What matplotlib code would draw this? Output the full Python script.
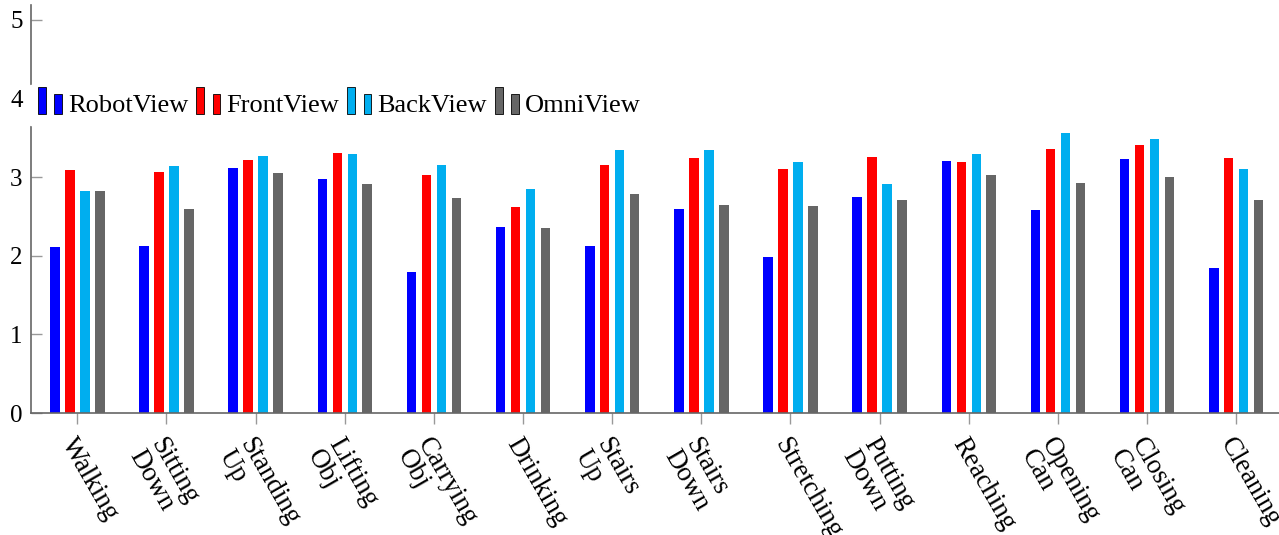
import numpy as np
import matplotlib
matplotlib.use("Agg")
import matplotlib.pyplot as plt
from matplotlib.patches import Patch, Rectangle
from matplotlib.legend_handler import HandlerBase
from matplotlib.transforms import ScaledTranslation

# Data
activities = ["Walking", "Sitting\nDown", "Standing\nUp", "Lifting\nObj", "Carrying\nObj",
              "Drinking", "Stairs\nUp", "Stairs\nDown", "Stretching", "Putting\nDown",
              "Reaching", "Opening\nCan", "Closing\nCan", "Cleaning"]
robot_view = [2.11, 2.13, 3.12, 2.98, 1.79, 2.36, 2.12, 2.60, 1.98, 2.75, 3.21, 2.58, 3.23, 1.85]
front_view = [3.09, 3.07, 3.22, 3.31, 3.03, 2.62, 3.16, 3.25, 3.11, 3.26, 3.19, 3.36, 3.41, 3.24]
back_view = [2.82, 3.14, 3.27, 3.29, 3.16, 2.85, 3.34, 3.34, 3.19, 2.91, 3.29, 3.56, 3.48, 3.10]
omni_view = [2.82, 2.60, 3.05, 2.91, 2.73, 2.35, 2.78, 2.64, 2.63, 2.71, 3.03, 2.93, 3.00, 2.71]

series = [("RobotView", robot_view, "#0000ff"),
          ("FrontView", front_view, "#ff0000"),
          ("BackView", back_view, "#00aeef"),
          ("OmniView", omni_view, "#666666")]

plt.rcParams['font.family'] = ['Liberation Serif', 'DejaVu Serif']


# pgfplots-style ybar legend image: two small bars
class TwoBars(HandlerBase):
    def create_artists(self, legend, orig_handle, xdescent, ydescent, width, height, fontsize, trans):
        fc = orig_handle.get_facecolor()
        w = width * 0.3
        r1 = Rectangle((-xdescent, -ydescent - 0.1 * height), w, height * 1.45,
                       facecolor=fc, edgecolor="black", lw=0.6, transform=trans)
        r2 = Rectangle((-xdescent + width * 0.62, -ydescent - 0.1 * height), w, height * 1.05,
                       facecolor=fc, edgecolor="black", lw=0.6, transform=trans)
        return [r1, r2]


fig = plt.figure(figsize=(12.79, 5.35), dpi=100)
ax = fig.add_axes([31 / 1279, 122 / 535, 1 - 31 / 1279, 408 / 535])

x = np.arange(len(activities))
bw = 0.107
step = 0.168
for i, (name, vals, col) in enumerate(series):
    ax.bar(x + (i - 1.5) * step, vals, width=bw, color=col, edgecolor="none", zorder=2)

ax.set_xlim(-0.52, 13.48)
ax.set_ylim(0, 5.19)
ax.set_yticks([0, 1, 2, 3, 4, 5])
ax.set_xticks(x)
ax.set_xticklabels(activities, rotation=-60, rotation_mode="anchor", ha="left", va="top",
                   fontsize=19.5, linespacing=0.95)
shift = ScaledTranslation(-0.06, 0, fig.dpi_scale_trans)
for lbl in ax.get_xticklabels():
    lbl.set_transform(lbl.get_transform() + shift)

for s in ["top", "right"]:
    ax.spines[s].set_visible(False)
for s in ["left", "bottom"]:
    ax.spines[s].set_color("#666666")
    ax.spines[s].set_linewidth(1.2)

ax.tick_params(axis="x", direction="out", length=8, color="#999999", width=1, pad=7)
ax.tick_params(axis="y", direction="in", length=8, color="#999999", width=1, labelsize=18, pad=6)

handles = [Patch(facecolor=col) for _, _, col in series]
labels = [name for name, _, _ in series]
leg = ax.legend(handles, labels, handler_map={Patch: TwoBars()}, loc="center left",
                bbox_to_anchor=(-0.001, 0.755), ncol=4, frameon=True, fancybox=False,
                edgecolor="white", framealpha=1, fontsize=19, handlelength=1.0,
                handleheight=0.7, handletextpad=0.15, columnspacing=0.3,
                borderpad=0.3, borderaxespad=0.0)
leg.set_zorder(5)

fig.savefig("out.png", dpi=100)
